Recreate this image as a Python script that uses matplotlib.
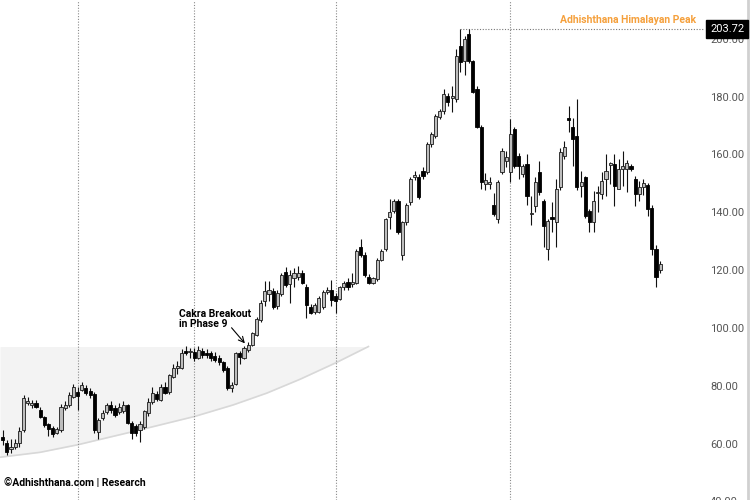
#!/usr/bin/env python3
import numpy as np
import matplotlib
matplotlib.use("Agg")
import matplotlib.pyplot as plt

plt.rcParams["font.family"] = ["Roboto", "DejaVu Sans"]

# weekly candles (159 bars)
opens = [
    62.5, 60.5, 58.5, 59.1, 60.5, 65.0, 74.5, 73.5, 74.5, 72.0,
    69.5, 67.0, 65.6, 64.0, 65.0, 72.7, 73.7, 76.5, 78.2, 79.0,
    79.6, 78.6, 77.5, 64.5, 69.2, 71.3, 73.5, 72.7, 71.3, 71.6,
    73.7, 67.5, 66.5, 65.0, 66.0, 70.9, 74.7, 77.5, 75.5, 80.0,
    78.0, 83.5, 86.5, 86.6, 92.5, 92.0, 92.0, 90.0, 92.2, 91.5,
    91.5, 90.7, 90.0, 88.5, 86.5, 79.6, 81.0, 91.5, 90.0, 92.8,
    94.5, 98.0, 103.2, 109.5, 112.0, 113.0, 108.0, 112.0, 119.8, 115.7,
    117.5, 118.1, 119.5, 114.6, 107.7, 106.0, 106.0, 107.7, 112.6, 113.6,
    111.5, 110.5, 114.6, 116.4, 115.5, 116.0, 128.5, 125.7, 118.1, 116.0,
    117.1, 124.0, 127.5, 138.6, 140.7, 144.1, 125.7, 136.9, 143.8, 152.5,
    152.5, 154.5, 154.2, 163.9, 166.7, 173.3, 175.4, 180.6, 180.0, 179.5,
    197.9, 192.7, 202.0, 192.7, 183.0, 169.8, 150.0, 150.3, 143.0, 137.9,
    154.2, 158.0, 154.2, 169.1, 159.8, 153.5, 157.0, 139.6, 142.4, 154.2,
    144.1, 127.5, 138.6, 136.9, 149.0, 159.8, 172.8, 169.8, 166.7, 149.3,
    152.5, 140.7, 136.9, 146.9, 146.6, 151.8, 156.8, 157.0, 148.3, 155.2,
    155.2, 156.2, 151.8, 146.6, 149.0, 149.7, 142.0, 127.8, 120.5,
]
highs = [
    65.0, 61.5, 62.0, 62.0, 66.0, 77.0, 76.5, 75.5, 75.5, 73.0,
    70.0, 67.5, 66.5, 66.0, 74.0, 75.0, 78.0, 81.0, 80.0, 81.5,
    80.5, 79.5, 78.0, 69.0, 72.0, 74.5, 75.0, 73.5, 74.5, 75.0,
    74.0, 68.0, 67.0, 68.0, 72.0, 76.0, 80.0, 78.5, 81.0, 81.5,
    84.5, 88.0, 89.0, 93.0, 94.0, 93.5, 93.5, 94.0, 93.5, 93.0,
    92.5, 92.0, 91.0, 89.0, 87.0, 81.5, 92.0, 92.5, 94.0, 95.5,
    99.0, 104.0, 110.0, 116.5, 116.5, 114.0, 113.5, 119.5, 121.5, 120.5,
    121.0, 121.6, 120.5, 115.5, 108.5, 109.0, 111.5, 113.5, 114.6, 117.0,
    112.5, 115.0, 116.5, 117.5, 119.5, 127.5, 131.0, 126.5, 119.0, 118.0,
    124.5, 127.5, 138.5, 144.8, 145.0, 145.0, 137.5, 143.5, 152.5, 154.5,
    153.5, 156.0, 164.5, 168.0, 174.5, 176.0, 183.0, 181.5, 184.0, 197.0,
    203.72, 201.5, 203.72, 193.0, 184.0, 170.5, 154.0, 152.5, 147.0, 151.5,
    162.5, 161.5, 172.6, 170.0, 161.0, 157.0, 160.4, 146.0, 152.5, 158.0,
    145.0, 138.0, 143.8, 151.8, 162.5, 165.0, 177.1, 173.0, 179.5, 154.5,
    153.0, 141.5, 147.6, 149.3, 154.2, 160.4, 157.8, 160.4, 158.7, 161.5,
    158.5, 157.0, 152.8, 151.1, 152.0, 150.5, 143.0, 129.0, 123.5,
]
lows = [
    60.0, 56.5, 57.0, 58.5, 59.0, 64.5, 73.5, 72.5, 72.5, 69.0,
    66.0, 63.0, 62.5, 63.5, 64.5, 72.0, 73.0, 76.0, 72.0, 78.5,
    77.0, 76.0, 64.0, 62.0, 68.5, 70.5, 71.0, 69.5, 70.5, 71.0,
    67.0, 62.0, 63.0, 61.0, 65.5, 70.0, 74.0, 75.0, 75.0, 77.5,
    77.5, 83.0, 84.5, 86.0, 91.0, 90.0, 89.0, 89.5, 90.0, 90.0,
    89.0, 88.5, 87.5, 85.0, 79.0, 78.3, 80.5, 88.0, 89.5, 92.0,
    94.0, 97.5, 102.5, 108.0, 109.5, 107.0, 107.0, 111.5, 114.5, 109.0,
    114.5, 117.0, 115.5, 103.9, 105.0, 105.0, 105.5, 107.0, 112.0, 108.0,
    105.6, 110.0, 113.5, 113.5, 114.5, 115.5, 125.0, 118.0, 115.5, 115.5,
    116.5, 123.5, 127.0, 134.4, 140.0, 133.0, 124.0, 136.0, 143.0, 151.5,
    145.0, 152.0, 153.5, 163.0, 166.0, 172.5, 174.5, 177.0, 175.0, 178.5,
    188.9, 188.0, 192.0, 181.5, 169.5, 148.3, 148.0, 148.5, 139.0, 136.5,
    153.5, 156.0, 150.7, 155.5, 151.8, 152.5, 143.0, 136.0, 140.3, 146.5,
    128.5, 124.0, 133.4, 128.5, 148.0, 158.7, 168.1, 156.3, 148.0, 145.5,
    138.5, 133.4, 133.4, 140.3, 144.8, 145.9, 150.0, 142.4, 148.3, 149.3,
    147.5, 154.8, 142.4, 144.1, 146.5, 139.0, 125.7, 114.6, 119.5,
]
closes = [
    61.5, 57.4, 59.3, 60.5, 64.7, 76.1, 75.2, 74.2, 73.0, 69.5,
    66.8, 65.4, 63.6, 65.4, 73.0, 73.7, 77.2, 79.9, 76.8, 80.6,
    77.8, 77.0, 65.0, 68.5, 70.9, 73.7, 72.0, 70.2, 73.0, 73.7,
    67.5, 64.0, 64.0, 67.0, 71.5, 74.7, 77.9, 75.8, 80.0, 77.9,
    84.0, 86.5, 87.2, 91.8, 91.8, 92.5, 90.0, 92.8, 91.0, 90.8,
    90.0, 89.3, 88.5, 85.8, 79.6, 80.5, 91.5, 90.2, 93.5, 94.5,
    98.5, 103.5, 109.1, 113.0, 113.5, 107.7, 112.5, 118.8, 115.3, 118.5,
    119.5, 119.5, 116.0, 108.4, 105.6, 108.4, 110.8, 112.9, 113.6, 110.1,
    109.8, 114.6, 116.0, 114.6, 116.3, 126.8, 125.7, 118.8, 116.0, 117.5,
    124.0, 126.8, 137.9, 140.3, 144.1, 133.4, 136.9, 143.0, 151.8, 153.1,
    145.5, 152.8, 163.9, 167.4, 173.6, 175.4, 181.3, 178.5, 180.2, 194.4,
    192.4, 200.3, 192.7, 182.0, 169.8, 150.7, 151.4, 150.6, 139.6, 150.7,
    161.5, 159.4, 167.4, 156.3, 156.3, 156.3, 145.9, 139.8, 150.7, 147.3,
    135.5, 137.2, 137.9, 148.3, 161.1, 162.9, 172.4, 165.6, 149.0, 150.7,
    138.9, 136.9, 144.1, 147.2, 151.1, 154.5, 157.3, 149.3, 155.2, 156.2,
    157.3, 155.2, 146.6, 149.0, 150.4, 141.4, 127.5, 118.1, 122.5,
]

peak_value = 203.72
price_ticks = [200, 180, 160, 140, 120, 100, 80, 60, 40]

# rising support curve under the early base (bar index, price)
curve_x = [-0.65, 9.0, 18.0, 31.4, 46.1, 55.4, 63.5, 71.5, 80.1, 87.9]
curve_y = [55.6, 57.3, 59.9, 64.5, 69.7, 73.7, 77.8, 82.6, 88.3, 93.9]
band_top = 93.9

# period separators (bar index)
separators = [18.0, 46.0, 80.05, 121.9]


def main():
    fig = plt.figure(figsize=(7.5, 5), dpi=100)
    ax = fig.add_axes([0, 0, 1, 1])
    ax.set_axis_off()
    ax.set_xlim(-0.65, 179.6)
    ax.set_ylim(40.8, 213.8)

    #=========== base band + curve ===========#
    ax.fill_between(curve_x, curve_y, band_top, color="#f3f3f3", lw=0, zorder=0)
    ax.plot(curve_x, curve_y, color="#d8d8d8", lw=1.2, zorder=1,
            solid_joinstyle="round")

    for xv in separators:
        ax.axvline(xv, color="#8a8a8a", lw=0.8, ls=(0, (1, 1.5)), zorder=1)

    #=============== candles =================#
    o = np.array(opens)
    h = np.array(highs)
    l = np.array(lows)
    c = np.array(closes)
    x = np.arange(len(o))
    up = c >= o

    ax.vlines(x, l, h, color="#111111", lw=0.8, zorder=2)
    bottom = np.minimum(o, c)
    height = np.maximum(np.abs(c - o), 0.5)
    ax.bar(x[up], height[up], bottom=bottom[up], width=0.75,
           color="#bdbdbd", edgecolor="#1a1a1a", lw=0.6, zorder=3)
    ax.bar(x[~up], height[~up], bottom=bottom[~up], width=0.75,
           color="#000000", edgecolor="#000000", lw=0.6, zorder=3)

    #=============== peak marker ==============#
    ax.hlines(peak_value, 110, 168.3, color="#777777", lw=0.8,
              ls=(0, (1, 1.5)), zorder=1)
    ax.text(150.4, 206.9, "Adhishthana Himalayan Peak", color="#f5a03c",
            fontsize=7.5, fontweight="bold", ha="center", va="center")

    #=============== price scale ==============#
    for v in price_ticks:
        ax.text(0.9467, v, f"{v:.2f}", transform=ax.get_yaxis_transform(),
                ha="left", va="center", fontsize=8, color="#555555",
                clip_on=False)
    ax.text(0.9467, peak_value, f"{peak_value:.2f}",
            transform=ax.get_yaxis_transform(), ha="left", va="center",
            fontsize=8, color="white", zorder=5,
            bbox=dict(boxstyle="square,pad=0.35", fc="black", ec="black"))
    ax.axvline(179.0, color="#d0d0d0", lw=2)

    #=============== annotations ==============#
    ax.text(42.4, 107.0, "Cakra Breakout\nin Phase 9", fontsize=7.5,
            fontweight="bold", ha="left", va="top", linespacing=1.05)
    ax.annotate("", xy=(58.2, 95.0), xytext=(55.0, 100.4),
                arrowprops=dict(arrowstyle="->", lw=0.8, color="black",
                                shrinkA=0, shrinkB=0))

    ax.text(0.005, 0.034, "©Adhishthana.com | Research", transform=ax.transAxes,
            fontsize=7.5, fontweight="bold", ha="left", va="center")

    plt.savefig("out.png", dpi=100)


if __name__ == "__main__":
    main()
